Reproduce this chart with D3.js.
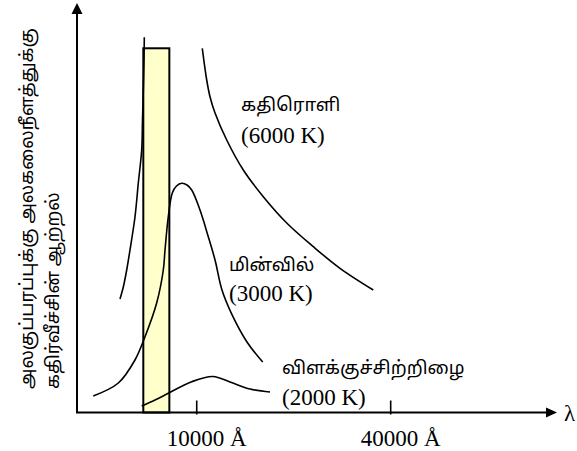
<!DOCTYPE html>
<html>
<head>
<meta charset="utf-8">
<script src="https://cdn.jsdelivr.net/npm/d3@7"></script>
<style>
  html, body { margin: 0; padding: 0; background: #fff; }
  svg { display: block; }
  .tam { font-family: "Noto Sans Tamil", "Lohit Tamil", "Latha", "Noto Sans", sans-serif; }
  .num { font-family: "Liberation Serif", "Times New Roman", serif; }
</style>
</head>
<body>
<svg id="chart" width="577" height="451"></svg>
<script>
// ---- Data (abstract schematic units: x 0..100 along wavelength axis, y 0..100 intensity) ----
const sun6000Left  = [[9.03,28.06],[9.73,31.03],[10.44,35.23],[11.13,40.17],[12.18,48.33],[12.88,56.74],[13.59,64.89],[13.76,72.31],[13.93,79.73],[14.08,87.14],[14.14,92.76]];
const sun6000Right = [[26.32,90.04],[27.25,82.2],[27.94,78.07],[29.0,74.04],[31.45,67.37],[34.94,59.95],[39.14,53.35],[44.06,46.85],[49.64,40.99],[55.25,35.65],[62.25,30.28]];
const arc3000      = [[3.42,4.08],[8.68,7.29],[12.18,12.98],[14.29,18.74],[16.74,27.07],[18.13,35.23],[18.49,40.17],[19.18,48.41],[20.02,54.26],[20.9,56.0],[22.0,56.66],[23.11,56.24],[24.1,55.01],[25.84,50.06],[27.58,43.46],[29.0,37.7],[30.46,30.28],[32.56,24.2],[35.71,17.43],[39.01,12.48]];
const lamp2000     = [[13.59,1.61],[16.39,3.09],[19.18,4.75],[24.1,7.61],[28.57,8.9],[32.14,7.54],[36.34,5.81],[40.55,5.07]];
const visibleBand  = [13.93, 19.4, 90.04];   // x start, x end, top
const tickValues   = [25.15, 65.9];
const tickLabels   = ["10000 Å", "40000 Å"];
const curveNames   = ["கதிரொளி", "மின்வில்", "விளக்குச்சிற்றிழை"];
const curveTemps   = ["(6000 K)", "(3000 K)", "(2000 K)"];
const yLabelLines  = ["அலகுப்பரப்புக்கு அலகலைநீளத்துக்கு", "கதிர்வீச்சின் ஆற்றல்"];
const xLabel       = "λ";

// ---- Layout ----
const svg = d3.select("#chart");
const x = d3.scaleLinear().domain([0, 100]).range([77, 553]);
const y = d3.scaleLinear().domain([0, 100]).range([412.5, 8]);

// visible band rectangle
svg.append("rect")
  .attr("x", x(visibleBand[0]))
  .attr("y", y(visibleBand[2]))
  .attr("width", x(visibleBand[1]) - x(visibleBand[0]))
  .attr("height", y(0) - y(visibleBand[2]))
  .attr("fill", "#ffffcc")
  .attr("stroke", "#000")
  .attr("stroke-width", 2);

// curves
const line = d3.line().x(d => x(d[0])).y(d => y(d[1])).curve(d3.curveCatmullRom.alpha(0.5));
[sun6000Left, sun6000Right, arc3000, lamp2000].forEach(c => {
  svg.append("path").attr("d", line(c))
    .attr("fill", "none").attr("stroke", "#000").attr("stroke-width", 1.6);
});

// axes
svg.append("line").attr("x1", x(0)).attr("y1", y(0)).attr("x2", x(0)).attr("y2", y(100) + 4)
  .attr("stroke", "#000").attr("stroke-width", 2);
svg.append("line").attr("x1", x(0) - 1).attr("y1", y(0)).attr("x2", x(100) - 4).attr("y2", y(0))
  .attr("stroke", "#000").attr("stroke-width", 2);
// arrowheads
svg.append("path")
  .attr("d", `M${x(0)},${y(100) - 5} L${x(0) - 5.5},${y(100) + 6} L${x(0) + 5.5},${y(100) + 6} Z`)
  .attr("fill", "#000");
svg.append("path")
  .attr("d", `M${x(100) + 4},${y(0)} L${x(100) - 7},${y(0) - 5} L${x(100) - 7},${y(0) + 5} Z`)
  .attr("fill", "#000");

// ticks
const ticks = svg.append("g");
tickValues.forEach((t, i) => {
  ticks.append("line").attr("x1", x(t)).attr("x2", x(t)).attr("y1", y(0) - 12).attr("y2", y(0) + 2)
    .attr("stroke", "#000").attr("stroke-width", 1.6);
  ticks.append("text").attr("class", "num")
    .attr("x", x(t) - 30).attr("y", y(0) + 33)
    .attr("font-size", 23).attr("fill", "#000")
    .text(tickLabels[i]);
});

// axis label λ
svg.append("text").attr("class", "num")
  .attr("x", x(100) + 11).attr("y", y(0) + 8)
  .attr("font-size", 23).attr("fill", "#000").text(xLabel);

// curve labels
const labelPos = [[241, 111, 143], [229, 271, 301], [282, 374, 405]];
curveNames.forEach((n, i) => {
  svg.append("text").attr("class", "tam")
    .attr("x", labelPos[i][0]).attr("y", labelPos[i][1])
    .attr("font-size", 18.4).attr("fill", "#000").text(n);
  svg.append("text").attr("class", "num")
    .attr("x", labelPos[i][0]).attr("y", labelPos[i][2])
    .attr("font-size", 23).attr("fill", "#000").text(curveTemps[i]);
});

// y label (rotated, two lines)
const yl = [[33, 389], [59, 389]];
yLabelLines.forEach((t, i) => {
  svg.append("text").attr("class", "tam")
    .attr("transform", `translate(${yl[i][0]},${yl[i][1]}) rotate(-90)`)
    .attr("font-size", 18.2).attr("fill", "#000").text(t);
});
</script>
</body>
</html>
